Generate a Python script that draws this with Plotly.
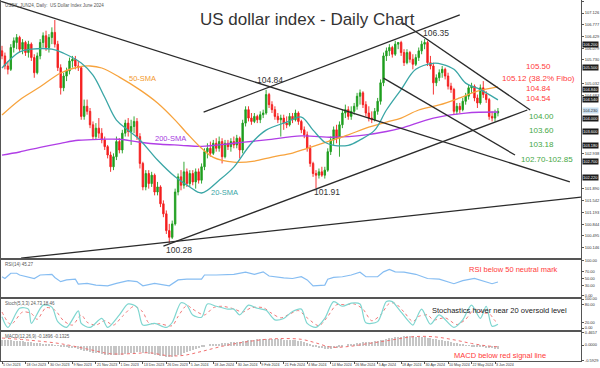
import plotly.graph_objects as go
from plotly.subplots import make_subplots

# ---------------- data ----------------
TICK_LABELS = ["5 Oct 2023", "18 Oct 2023", "30 Oct 2023", "9 Nov 2023", "21 Nov 2023", "1 Dec 2023",
               "13 Dec 2023", "26 Dec 2023", "5 Jan 2024", "18 Jan 2024", "30 Jan 2024", "9 Feb 2024",
               "21 Feb 2024", "4 Mar 2024", "14 Mar 2024", "26 Mar 2024", "5 Apr 2024", "18 Apr 2024",
               "30 Apr 2024", "10 May 2024", "22 May 2024", "3 Jun 2024"]
TICK_STEP = 8

OPEN = [106.00, 105.85, 105.55, 105.45, 106.10, 106.25, 106.40, 106.05, 106.25, 105.95,
        106.20, 105.80, 105.35, 105.85, 106.25, 106.45, 106.10, 106.40, 106.55, 106.20,
        105.50, 104.90, 105.25, 105.40, 105.70, 105.75, 105.55, 105.50, 104.05, 104.35,
        104.20, 103.80, 103.45, 103.70, 103.55, 103.35, 103.15, 102.90, 102.55, 102.85,
        103.30, 103.05, 103.55, 103.85, 103.60, 103.75, 103.90, 103.45, 102.65, 101.95,
        102.35, 102.05, 102.30, 101.80, 101.95, 101.45, 101.15, 100.65, 100.45, 100.85,
        101.80, 102.25, 102.00, 102.40, 102.05, 102.35, 102.10, 102.40, 102.15, 102.55,
        103.00, 103.10, 102.95, 103.25, 103.10, 103.30, 102.85, 103.25, 103.15, 103.30,
        103.20, 103.40, 103.05, 103.85, 104.25, 104.00, 103.90, 104.05, 103.95, 104.10,
        104.15, 104.70, 104.40, 104.25, 104.05, 103.95, 104.00, 103.85, 103.80, 104.05,
        103.95, 104.15, 103.90, 103.65, 103.50, 103.10, 102.65, 102.35, 102.30, 102.40,
        102.30, 102.45, 103.00, 103.35, 103.65, 103.40, 103.80, 104.15, 104.25, 104.05,
        104.20, 104.35, 104.65, 104.75, 104.40, 104.15, 104.00, 103.95, 104.20, 104.50,
        105.05, 105.85, 106.00, 106.10, 105.90, 106.20, 106.25, 105.95, 105.65, 105.95,
        105.75, 105.60, 105.80, 106.00, 106.20, 106.25, 105.65, 105.55, 105.05, 105.20,
        105.35, 105.45, 105.25, 104.95, 104.85, 104.20, 104.35, 104.25, 104.50, 104.65,
        104.90, 104.95, 104.60, 104.45, 104.90, 104.70, 104.55, 104.05, 104.00, 104.15]
HIGH = [106.15, 105.95, 105.70, 106.20, 106.40, 106.50, 106.45, 106.35, 106.30, 106.30,
        106.25, 105.90, 105.95, 106.35, 106.55, 106.60, 106.50, 106.70, 106.92, 106.30,
        105.60, 105.35, 105.50, 105.80, 105.85, 105.85, 105.70, 105.55, 104.55, 104.55,
        104.30, 103.90, 103.85, 104.00, 103.70, 103.45, 103.20, 103.00, 102.95, 103.45,
        103.40, 103.65, 103.95, 104.00, 103.95, 104.05, 104.00, 103.55, 102.70, 102.45,
        102.45, 102.40, 102.35, 102.10, 102.00, 101.55, 101.25, 100.85, 100.95, 101.90,
        102.35, 102.45, 102.70, 102.50, 102.45, 102.45, 102.50, 102.50, 102.65, 103.10,
        103.25, 103.30, 103.35, 103.40, 103.45, 103.40, 103.35, 103.35, 103.40, 103.45,
        103.50, 103.45, 103.95, 104.35, 104.35, 104.15, 104.15, 104.10, 104.20, 104.25,
        104.84, 104.75, 104.50, 104.35, 104.15, 104.10, 104.10, 104.05, 104.15, 104.15,
        104.25, 104.20, 103.95, 103.75, 103.60, 103.20, 102.70, 102.45, 102.50, 102.55,
        102.55, 103.10, 103.45, 103.75, 103.80, 103.90, 104.25, 104.40, 104.35, 104.35,
        104.45, 104.75, 104.85, 104.80, 104.50, 104.35, 104.20, 104.30, 104.60, 105.15,
        105.95, 106.10, 106.20, 106.15, 106.30, 106.25, 106.30, 106.05, 106.05, 106.00,
        105.90, 105.90, 106.10, 106.30, 106.35, 106.30, 105.85, 105.65, 105.30, 105.45,
        105.55, 105.50, 105.35, 105.05, 104.90, 104.45, 104.45, 104.60, 104.75, 105.00,
        105.05, 105.00, 104.70, 105.00, 105.10, 104.80, 104.60, 104.20, 104.25, 104.30]
LOW = [105.75, 105.45, 105.30, 105.40, 105.95, 106.05, 105.95, 105.90, 105.85, 105.80,
       105.70, 105.20, 105.30, 105.75, 106.10, 106.00, 105.95, 106.20, 106.10, 105.40,
       104.70, 104.80, 105.10, 105.30, 105.50, 105.45, 105.40, 103.95, 103.95, 104.10,
       103.70, 103.35, 103.35, 103.40, 103.25, 103.05, 102.80, 102.40, 102.45, 102.75,
       102.95, 102.95, 103.45, 103.45, 103.20, 103.55, 103.35, 102.50, 101.85, 101.85,
       101.90, 101.95, 101.70, 101.70, 101.35, 101.05, 100.55, 100.28, 100.40, 100.80,
       101.70, 101.85, 101.90, 101.95, 101.95, 102.00, 101.90, 102.05, 102.05, 102.45,
       102.80, 102.85, 102.90, 103.00, 103.00, 102.65, 102.80, 103.05, 103.00, 103.10,
       103.10, 102.80, 102.95, 103.75, 103.90, 103.80, 103.85, 103.85, 103.85, 104.00,
       104.10, 104.30, 104.15, 103.95, 103.85, 103.45, 103.65, 103.70, 103.75, 103.85,
       103.90, 103.80, 103.55, 103.40, 103.00, 102.55, 102.25, 101.91, 102.20, 102.25,
       102.20, 102.40, 102.90, 103.20, 103.25, 102.85, 103.70, 104.00, 103.95, 103.95,
       104.10, 104.25, 104.40, 104.30, 104.05, 103.90, 103.85, 103.90, 104.10, 104.40,
       104.95, 105.70, 105.85, 105.80, 105.85, 106.05, 105.85, 105.55, 105.60, 105.65,
       105.45, 105.55, 105.70, 105.90, 106.05, 105.55, 105.45, 104.70, 104.95, 105.10,
       105.20, 105.15, 104.85, 104.75, 104.10, 104.10, 104.15, 104.20, 104.40, 104.55,
       104.75, 104.50, 104.30, 104.40, 104.60, 104.45, 103.95, 103.90, 103.90, 104.05]
CLOSE = [105.85, 105.55, 105.45, 106.10, 106.30, 106.40, 106.05, 106.25, 105.95, 106.20,
         105.80, 105.35, 105.85, 106.25, 106.45, 106.10, 106.40, 106.55, 106.20, 105.50,
         104.90, 105.25, 105.40, 105.70, 105.75, 105.55, 105.50, 104.05, 104.35, 104.20,
         103.80, 103.45, 103.70, 103.55, 103.35, 103.15, 102.90, 102.55, 102.85, 103.30,
         103.05, 103.55, 103.85, 103.60, 103.75, 103.90, 103.45, 102.65, 101.95, 102.35,
         102.05, 102.30, 101.80, 101.95, 101.45, 101.15, 100.65, 100.45, 100.85, 101.80,
         102.25, 102.00, 102.40, 102.05, 102.35, 102.10, 102.40, 102.15, 102.55, 103.00,
         103.10, 102.95, 103.25, 103.10, 103.30, 102.85, 103.25, 103.15, 103.30, 103.20,
         103.40, 103.05, 103.85, 104.25, 104.00, 103.90, 104.05, 103.95, 104.10, 104.15,
         104.70, 104.40, 104.25, 104.05, 103.95, 104.00, 103.85, 103.80, 104.05, 103.95,
         104.15, 103.90, 103.65, 103.50, 103.10, 102.65, 102.35, 102.30, 102.40, 102.30,
         102.45, 103.00, 103.35, 103.65, 103.40, 103.80, 104.15, 104.25, 104.05, 104.20,
         104.35, 104.65, 104.75, 104.40, 104.15, 104.00, 103.95, 104.20, 104.50, 105.05,
         105.85, 106.00, 106.10, 105.90, 106.20, 106.25, 105.95, 105.65, 105.95, 105.75,
         105.60, 105.80, 106.00, 106.20, 106.25, 105.65, 105.55, 105.05, 105.20, 105.35,
         105.45, 105.25, 104.95, 104.85, 104.20, 104.35, 104.25, 104.50, 104.65, 104.90,
         104.95, 104.60, 104.45, 104.90, 104.70, 104.55, 104.05, 104.00, 104.15, 104.20]

SMA20_BAR = [0, 6, 10, 17, 21, 27, 31, 35, 39, 43, 47, 53, 59, 64, 68, 74, 79, 85, 90, 97,
             102, 106, 110, 113, 118, 122, 127, 131, 136, 141, 147, 150, 154, 158, 162, 165, 169]
SMA20_VAL = [105.49, 105.97, 106.05, 106.05, 105.93, 105.64, 105.28, 104.62, 103.94, 103.64,
             103.35, 102.75, 102.25, 101.95, 101.77, 102.15, 102.54, 103.25, 103.64, 103.88,
             104.03, 103.64, 103.28, 103.19, 103.19, 103.35, 103.64, 104.24, 104.85, 105.45,
             105.63, 105.60, 105.45, 105.04, 104.89, 104.75, 104.54]
SMA50_BAR = [0, 6, 13, 20, 26, 30, 34, 40, 47, 53, 59, 63, 68, 72, 79, 86, 92, 99, 104, 111,
             118, 124, 131, 136, 142, 149, 156, 162, 169]
SMA50_VAL = [104.09, 104.54, 104.93, 105.34, 105.52, 105.55, 105.49, 105.22, 104.84, 104.45,
             103.94, 103.55, 103.10, 102.83, 102.69, 102.72, 102.84, 102.96, 103.10, 103.30,
             103.50, 103.70, 103.88, 104.00, 104.24, 104.39, 104.60, 104.80, 104.93]
SMA200_BAR = [0, 6, 13, 20, 26, 34, 40, 47, 54, 61, 68, 79, 90, 102, 113, 124, 131, 136, 147, 158, 169]
SMA200_VAL = [102.90, 102.99, 103.13, 103.25, 103.34, 103.37, 103.37, 103.28, 103.22, 103.19,
              103.16, 103.25, 103.35, 103.47, 103.43, 103.50, 103.60, 103.70, 104.00, 104.15, 104.18]

# trend lines drawn by the analyst: (bar0, price0, bar1, price1)
TRENDLINES = [(-0.3, 107.47, 193.5, 102.10),
              (136.7, 106.83, 180.0, 104.24),
              (130.0, 105.19, 174.8, 102.90),
              (68.7, 104.18, 156.0, 107.07),
              (55.0, 100.19, 179.0, 104.24),
              (6.5, 99.83, 197.6, 101.65)]

DASHED_LEVELS = [106.20, 105.50, 104.84, 104.54, 104.00, 103.60, 103.18, 102.70, 102.22]
FIBO_LEVELS = [106.95, 105.12, 102.85]
CURRENT_PRICE = 104.23

RED_LABELS = ["105.50", "105.12 (38.2% Fibo)", "104.84", "104.54"]
RED_LABEL_PRICES = [105.50, 105.12, 104.84, 104.54]
GREEN_LABELS = ["104.00", "103.60", "103.18", "102.70-102.85"]
GREEN_LABEL_PRICES = [104.00, 103.60, 103.18, 102.70]

PIVOT_LABELS = ["106.35", "104.84", "101.91", "100.28"]
PIVOT_BARS = [148, 91.4, 110.9, 60.2]
PIVOT_PRICES = [106.53, 105.13, 101.81, 100.07]

PRICE_TICKS = [100.146, 100.495, 100.844, 101.193, 101.542, 101.890, 102.240, 102.589, 102.938,
               103.287, 103.636, 103.985, 104.334, 104.683, 105.032, 105.381, 105.730, 106.079,
               106.429, 106.777, 107.126, 107.475]

RSI_BAR = [0, 1, 3, 5, 6, 10, 11, 13, 17, 18, 20, 22, 25, 26, 29, 32, 36, 39, 43, 46,
           48, 52, 55, 57, 60, 63, 68, 69, 73, 79, 83, 86, 89, 91, 96, 99, 102, 104, 106, 110,
           111, 113, 116, 119, 122, 124, 128, 130, 132, 134, 137, 141, 145, 149, 154, 157, 161, 164, 167, 169]
RSI_VAL = [55, 50, 65, 65, 60, 53, 50, 60, 62, 53, 41, 46, 48, 34, 36, 31, 29, 36, 44, 41,
           29, 36, 33, 29, 46, 48, 48, 60, 60, 62, 68, 62, 69, 57, 52, 50, 55, 46, 29, 31,
           48, 53, 55, 60, 68, 55, 55, 69, 76, 69, 68, 62, 50, 48, 35, 44, 50, 43, 35, 40]

STK_BAR = [0, 2, 6, 9, 10, 14, 17, 19, 22, 26, 27, 30, 34, 36, 40, 43, 46, 48, 52, 56,
           58, 61, 63, 65, 68, 70, 73, 77, 79, 81, 84, 87, 90, 93, 96, 99, 102, 104, 107, 110,
           113, 116, 119, 122, 124, 128, 131, 133, 135, 140, 141, 143, 146, 149, 154, 157, 160,
           163, 165, 167, 169]
STK_VAL = [39, 2, 68, 65, 16, 79, 72, 22, 2, 59, 16, 2, 33, 2, 45, 83, 72, 10, 16, 2,
           19, 87, 79, 45, 37, 83, 75, 65, 65, 45, 79, 68, 61, 28, 33, 57, 65, 16, 2, 33,
           91, 75, 86, 83, 18, 22, 91, 91, 68, 10, 28, 65, 13, 45, 2, 28, 79, 33, 75, 6, 13]
STD_BAR = [0, 3, 7, 10, 12, 15, 18, 21, 24, 27, 29, 32, 35, 38, 41, 45, 48, 50, 54, 58,
           60, 63, 65, 69, 72, 75, 79, 82, 85, 89, 92, 95, 98, 101, 104, 108, 111, 114, 117, 120,
           123, 126, 129, 132, 134, 137, 140, 142, 145, 147, 151, 155, 158, 161, 164, 166, 168, 169]
STD_VAL = [55, 12, 55, 50, 30, 70, 62, 25, 10, 45, 20, 10, 25, 10, 40, 75, 55, 18, 14, 8,
           40, 78, 65, 45, 70, 75, 66, 55, 70, 70, 50, 35, 48, 60, 35, 8, 40, 80, 80, 83,
           65, 25, 45, 85, 85, 55, 22, 40, 45, 28, 35, 12, 30, 65, 52, 50, 25, 18]

MACD = [0.22, 0.21, 0.20, 0.20, 0.19, 0.18, 0.17, 0.16, 0.15, 0.13,
        0.12, 0.10, 0.09, 0.08, 0.07, 0.05, 0.04, 0.03, 0.01, -0.01,
        -0.04, -0.06, -0.07, -0.08, -0.10, -0.11, -0.13, -0.17, -0.20, -0.23,
        -0.26, -0.28, -0.30, -0.31, -0.33, -0.35, -0.37, -0.38, -0.38, -0.37,
        -0.37, -0.35, -0.33, -0.31, -0.30, -0.28, -0.27, -0.27, -0.29, -0.31,
        -0.32, -0.34, -0.36, -0.38, -0.40, -0.42, -0.44, -0.45, -0.44, -0.41,
        -0.38, -0.35, -0.31, -0.27, -0.23, -0.18, -0.14, -0.10, -0.06, -0.03,
        0.00, 0.02, 0.04, 0.06, 0.07, 0.08, 0.09, 0.11, 0.12, 0.13,
        0.14, 0.15, 0.17, 0.19, 0.20, 0.22, 0.23, 0.24, 0.25, 0.26,
        0.27, 0.27, 0.26, 0.26, 0.25, 0.24, 0.23, 0.22, 0.21, 0.20,
        0.20, 0.18, 0.16, 0.12, 0.08, 0.03, -0.02, -0.06, -0.09, -0.11,
        -0.13, -0.13, -0.12, -0.11, -0.09, -0.06, -0.03, 0.00, 0.02, 0.04,
        0.06, 0.08, 0.10, 0.12, 0.13, 0.14, 0.15, 0.16, 0.18, 0.20,
        0.23, 0.26, 0.28, 0.30, 0.32, 0.33, 0.34, 0.35, 0.35, 0.35,
        0.35, 0.34, 0.34, 0.33, 0.32, 0.30, 0.28, 0.26, 0.24, 0.22,
        0.20, 0.18, 0.16, 0.14, 0.10, 0.08, 0.05, 0.03, 0.01, -0.01,
        -0.03, -0.04, -0.05, -0.06, -0.07, -0.08, -0.10, -0.11, -0.12, -0.12]
SIG_BAR = [0, 10, 20, 30, 37, 45, 50, 57, 62, 68, 75, 82, 90, 96, 102, 107, 112, 118, 125, 132,
           140, 147, 154, 160, 165, 169]
SIG_VAL = [0.27, 0.18, 0.05, -0.18, -0.34, -0.33, -0.30, -0.42, -0.40, -0.25, -0.05, 0.10, 0.22,
           0.25, 0.22, 0.08, -0.08, -0.06, 0.06, 0.18, 0.32, 0.32, 0.20, 0.06, -0.03, -0.07]

# ---------------- figure ----------------
FONT = "Liberation Sans, Arial, sans-serif"
X_RANGE = [-0.34, 197.3]
bars = list(range(len(CLOSE)))

fig = make_subplots(rows=4, cols=1, shared_xaxes=True, vertical_spacing=0)

# levels (below candles)
for lv in DASHED_LEVELS:
    fig.add_hline(y=lv, row=1, col=1, layer="below",
                  line=dict(color="#858585", width=0.8, dash="dashdot"))
for lv in FIBO_LEVELS:
    fig.add_hline(y=lv, row=1, col=1, layer="below", line=dict(color="#c5e6f6", width=1.2))
fig.add_hline(y=CURRENT_PRICE, row=1, col=1, layer="below", line=dict(color="#c9d3dc", width=1))

fig.add_trace(go.Candlestick(
    x=bars, open=OPEN, high=HIGH, low=LOW, close=CLOSE, whiskerwidth=0,
    increasing=dict(line=dict(color="#1f9e1f", width=0.9), fillcolor="#1f9e1f"),
    decreasing=dict(line=dict(color="#f41e1e", width=0.9), fillcolor="#f41e1e"),
    showlegend=False, hoverinfo="skip"), row=1, col=1)

fig.add_trace(go.Scatter(x=SMA200_BAR, y=SMA200_VAL, mode="lines",
                         line=dict(color="#b03ee6", width=1.3, shape="spline"), showlegend=False), row=1, col=1)
fig.add_trace(go.Scatter(x=SMA50_BAR, y=SMA50_VAL, mode="lines",
                         line=dict(color="#f7a33d", width=1.3, shape="spline"), showlegend=False), row=1, col=1)
fig.add_trace(go.Scatter(x=SMA20_BAR, y=SMA20_VAL, mode="lines",
                         line=dict(color="#3aa6a6", width=1.3, shape="spline"), showlegend=False), row=1, col=1)

for b0, p0, b1, p1 in TRENDLINES:
    fig.add_trace(go.Scatter(x=[b0, b1], y=[p0, p1], mode="lines", line=dict(color="#2b2b2b", width=1.3),
                             showlegend=False), row=1, col=1)

# RSI
for lv in (70, 50, 30):
    fig.add_hline(y=lv, row=2, col=1, layer="below", line=dict(color="#a8a8a8", width=0.8, dash="dot"))
fig.add_trace(go.Scatter(x=RSI_BAR, y=RSI_VAL, mode="lines", line=dict(color="#86bdf2", width=1.2),
                         showlegend=False), row=2, col=1)

# Stochastics
for lv in (80, 20):
    fig.add_hline(y=lv, row=3, col=1, layer="below", line=dict(color="#a8a8a8", width=0.8, dash="dot"))
fig.add_trace(go.Scatter(x=STD_BAR, y=STD_VAL, mode="lines",
                         line=dict(color="#f07878", width=1, dash="dot", shape="spline", smoothing=0.8),
                         showlegend=False), row=3, col=1)
fig.add_trace(go.Scatter(x=STK_BAR, y=STK_VAL, mode="lines",
                         line=dict(color="#7fd6d0", width=1.2, shape="spline", smoothing=0.8),
                         showlegend=False), row=3, col=1)

# MACD
fig.add_trace(go.Bar(x=bars, y=MACD, width=0.35, marker=dict(color="#c6c6c6", line=dict(width=0)),
                     showlegend=False), row=4, col=1)
fig.add_trace(go.Scatter(x=SIG_BAR, y=SIG_VAL, mode="lines",
                         line=dict(color="#f07070", width=1, dash="dot", shape="spline"),
                         showlegend=False), row=4, col=1)

# ---------------- axes ----------------
frame = dict(showgrid=False, zeroline=False, showline=True, mirror=True, linecolor="#555555",
             linewidth=1, automargin=False)
for r in range(1, 5):
    fig.update_xaxes(row=r, col=1, range=X_RANGE, rangeslider_visible=False, **frame,
                     showticklabels=False, ticks="")
fig.update_xaxes(row=4, col=1, showticklabels=True, ticks="outside", ticklen=2, tickcolor="#555",
                 tickvals=bars[::TICK_STEP][:len(TICK_LABELS)], ticktext=TICK_LABELS, tickangle=0,
                 ticklabelposition="outside right", tickfont=dict(size=3.6, color="#333", family=FONT))

# price labels hidden behind a level box are not drawn
boxed = DASHED_LEVELS + [CURRENT_PRICE]
shown_ticks = [v for v in PRICE_TICKS if min(abs(v - b) for b in boxed) >= 0.12]

ytick = dict(side="right", ticks="outside", ticklen=2, tickcolor="#555",
             tickfont=dict(size=4, color="#333", family=FONT))
fig.update_yaxes(row=1, col=1, domain=[0.2839, 1.0], range=[99.82, 107.514], **frame, **ytick,
                 tickvals=shown_ticks, ticktext=[f"{v:.3f}" for v in shown_ticks])
fig.update_yaxes(row=2, col=1, domain=[0.1773, 0.2812], range=[-2.9, 104.3], **frame, **ytick,
                 tickvals=[0, 30, 50, 70, 100], ticktext=["0.00", "30.00", "50.00", "70.00", "100.00"])
fig.update_yaxes(row=3, col=1, domain=[0.0845, 0.1731], range=[-8.6, 101.7], **frame, **ytick,
                 tickvals=[0, 20, 80, 100], ticktext=["0.00", "20.00", "80.00", "100.00"])
fig.update_yaxes(row=4, col=1, domain=[0.0, 0.0817], range=[-0.62, 0.523], **frame, **ytick,
                 tickvals=[-0.5929, 0, 0.4657], ticktext=["-0.5929", "0.0000", "0.4657"])

# ---------------- annotations ----------------
small = dict(size=4.5, color="#555", family=FONT)
ann = [
    dict(text="US dollar index - Daily Chart", xref="paper", yref="paper", x=0.5276, y=0.9446,
         xanchor="center", yanchor="middle", showarrow=False,
         font=dict(size=17, color="#333333", family=FONT)),
    dict(text="USDX_JUN24, Daily:  US Dollar Index June 2024", xref="paper", yref="paper",
         x=0.004, y=0.997, xanchor="left", yanchor="top", showarrow=False, font=small),
    dict(text="RSI(14) 45.27", xref="paper", yref="paper", x=0.004, y=0.2805, xanchor="left",
         yanchor="top", showarrow=False, font=small),
    dict(text="Stoch(5,3,3) 24.73 18.46", xref="paper", yref="paper", x=0.004, y=0.1725,
         xanchor="left", yanchor="top", showarrow=False, font=small),
    dict(text="MACD(12,26,9) -0.1896 -0.1325", xref="paper", yref="paper", x=0.004, y=0.081,
         xanchor="left", yanchor="top", showarrow=False, font=small),
]

for t, b, p in zip(PIVOT_LABELS, PIVOT_BARS, PIVOT_PRICES):
    ann.append(dict(text=t, x=b, y=p, xref="x", yref="y", showarrow=False,
                    font=dict(size=8.5, color="#333", family=FONT)))
for t, b, p, c in [("50-SMA", 47.8, 105.19, "#f39a2e"), ("200-SMA", 57.5, 103.38, "#a63be0"),
                   ("20-SMA", 75.7, 101.77, "#3aa6a6")]:
    ann.append(dict(text=t, x=b, y=p, xref="x", yref="y", showarrow=False,
                    font=dict(size=7.5, color=c, family=FONT)))
for t, p in zip(RED_LABELS, RED_LABEL_PRICES):
    ann.append(dict(text=t, x=182.7, y=p, xref="x", yref="y", yshift=1.5, showarrow=False,
                    font=dict(size=8, color="#ff3a3a", family=FONT)))
for t, p in zip(GREEN_LABELS, GREEN_LABEL_PRICES):
    ann.append(dict(text=t, x=185.7 if "-" in t else 183.7, y=p, xref="x", yref="y",
                    yshift=2.5 if "-" in t else 1.5, showarrow=False,
                    font=dict(size=8, color="#45a845", family=FONT)))

# right-axis level boxes
for lv in DASHED_LEVELS:
    ann.append(dict(text=f"{lv:.3f}", xref="paper", yref="y", x=1.0, y=lv, xanchor="left", xshift=1,
                    showarrow=False, bgcolor="#1c1c1c", borderpad=0,
                    font=dict(size=4, color="white", family=FONT)))
ann.append(dict(text=f"{CURRENT_PRICE:.3f}", xref="paper", yref="y", x=1.0, y=CURRENT_PRICE, xanchor="left",
                xshift=1, showarrow=False, bgcolor="#c8dff0", borderpad=0,
                font=dict(size=4, color="#333", family=FONT)))

# sub-panel comments
ann.append(dict(text="RSI below 50 neutral mark", x=0.8844, y=0.2548, xref="paper", yref="paper",
                xanchor="center", yanchor="middle", showarrow=False,
                font=dict(size=7.5, color="#ff3a3a", family=FONT)))
ann.append(dict(text="Stochastics hover near 20 oversold level", x=0.8603, y=0.1405, xref="paper",
                yref="paper", xanchor="center", yanchor="middle", showarrow=False,
                font=dict(size=7.5, color="#222", family=FONT)))
ann.append(dict(text="MACD below red signal line", x=0.8603, y=0.0140, xref="paper", yref="paper",
                xanchor="center", yanchor="middle", showarrow=False,
                font=dict(size=7.5, color="#ff3a3a", family=FONT)))

fig.update_layout(width=600, height=368, margin=dict(l=1, r=19, t=0, b=7, autoexpand=False),
                  paper_bgcolor="white", plot_bgcolor="white", showlegend=False,
                  font=dict(family=FONT), annotations=ann, bargap=0)

fig.write_html("out.html", config={"displayModeBar": False},
               post_script="document.body.style.margin='0';document.body.style.padding='0';"
                           "document.documentElement.style.overflow='hidden';")
